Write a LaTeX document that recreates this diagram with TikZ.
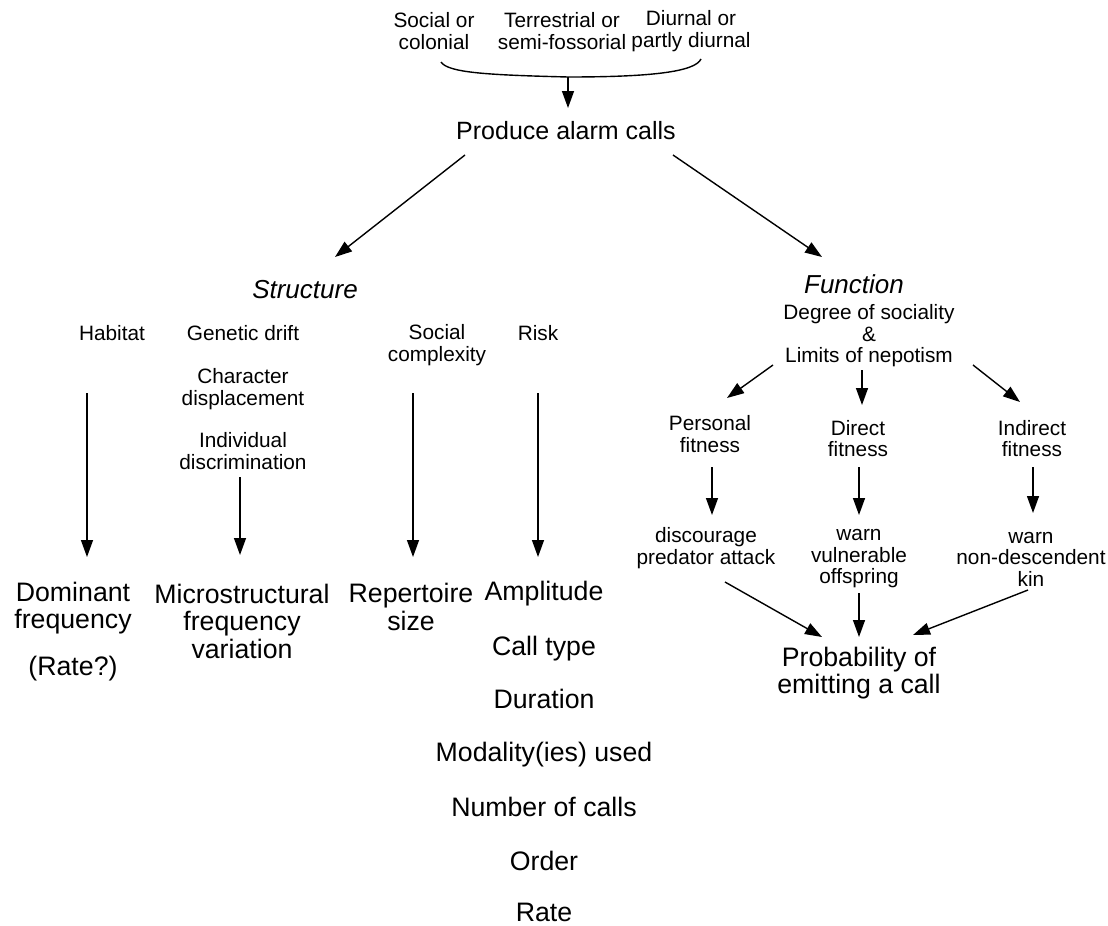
\documentclass[tikz,border=0pt]{standalone}
\usepackage{fontspec}
\setmainfont{Liberation Sans}
\usetikzlibrary{arrows.meta,calc}
\begin{document}
\begin{tikzpicture}[x=1pt,y=-1pt,
  sm/.style={font=\fontsize{20.8}{21.5}\selectfont, align=center, inner sep=0pt},
  lg/.style={font=\fontsize{26.7}{27.5}\selectfont, align=center, inner sep=0pt},
  lgone/.style={lg, text height=19.5pt, text depth=5.7pt},
  it/.style={font=\fontsize{26}{27.5}\selectfont\itshape, inner sep=0pt, text height=19.5pt, text depth=5.7pt},
  smone/.style={sm, text height=15pt, text depth=4.4pt},
  arr/.style={-{Triangle[length=17pt,width=12pt]}, line width=1.4pt},
  ln/.style={line width=1.4pt}]
\useasboundingbox (0,0) rectangle (1108,926);
% top conditions
\node[sm] (t1) at (434,31) {Social or\\colonial};
\node[sm] (t2) at (562,31) {Terrestrial or\\semi-fossorial};
\node[sm] (t3) at (691,31) {Diurnal or\\partly diurnal};
\coordinate (bmid) at (568,77);
\draw[ln] (441,62) .. controls (448,73) and (490,75) .. (bmid) .. controls (650,77) and (695,72) .. (701,59);
\node[lgone, font=\fontsize{25}{27.5}\selectfont] (prod) at (566,133) {Produce alarm calls};
\draw[arr] (bmid) -- ($(prod)+(2,-25)$);
% main branches
\node[it] (struct) at (305,292) {Structure};
\node[it] (func) at (854,287) {Function};
\draw[arr] ($(prod)+(-101,22)$) -- ($(struct)+(30,-35)$);
\draw[arr] ($(prod)+(107,22)$) -- ($(func)+(-32,-30)$);
% structure factors
\node[smone] (hab) at (112,335) {Habitat};
\node[smone] (gen) at (243,335) {Genetic drift};
\node[sm] (char) at (243,389) {Character\\displacement};
\node[sm] (indiv) at (243,451) {Individual\\discrimination};
\node[sm] (soc) at (437,345) {Social\\complexity};
\node[smone] (risk) at (538,335) {Risk};
% structure outcomes
\node[lg] (dom) at (73,608) {Dominant\\frequency};
\node[lgone] (rq) at (73,669) {(Rate?)};
\node[lg] (micro) at (242,621) {Microstructural\\frequency\\variation};
\node[lg] (rep) at (411,607) {Repertoire\\size};
\node[lgone] (amp) at (544,594) {Amplitude};
\node[lgone] (ctype) at (544,649) {Call type};
\node[lgone] (dur) at (544,702) {Duration};
\node[lgone] (mod) at (544,755) {Modality(ies) used};
\node[lgone] (num) at (544,810) {Number of calls};
\node[lgone] (ord) at (544,864) {Order};
\node[lgone] (rate) at (544,915) {Rate};
\draw[arr] ($(hab)+(-25,58)$) -- ($(dom)+(14,-51)$);
\draw[arr] ($(indiv)+(-3,26)$) -- ($(micro)+(-2,-66)$);
\draw[arr] ($(soc)+(-24,48)$) -- ($(rep)+(2,-50)$);
\draw[arr] ($(risk)+(0,58)$) -- ($(amp)+(-6,-37)$);
% function side
\node[sm] (deg) at (869,336) {Degree of sociality\\\&\\Limits of nepotism};
\node[sm] (pers) at (710,434) {Personal\\fitness};
\node[sm] (dir) at (858,438.5) {Direct\\fitness};
\node[sm] (ind) at (1032,438.5) {Indirect\\fitness};
\draw[arr] ($(deg)+(-96,29)$) -- ($(pers)+(17,-36)$);
\draw[arr] ($(deg)+(-7,34)$) -- ($(dir)+(4,-33.5)$);
\draw[arr] ($(deg)+(104,29)$) -- ($(ind)+(-12,-36.5)$);
\node[sm] (disc) at (706,548) {discourage\\predator attack};
\node[sm] (warnv) at (859,559) {warn\\vulnerable\\offspring};
\node[sm] (warnk) at (1031,559) {warn\\non-descendent\\kin};
\draw[arr] ($(pers)+(2,33)$) -- ($(disc)+(6,-33)$);
\draw[arr] ($(dir)+(1,28.5)$) -- ($(warnv)+(0,-44)$);
\draw[arr] ($(ind)+(1,28.5)$) -- ($(warnk)+(2,-46)$);
\node[lg] (prob) at (859,673) {Probability of\\emitting a call};
\draw[arr] ($(disc)+(19,34)$) -- ($(prob)+(-37,-36)$);
\draw[arr] ($(warnv)+(0,34)$) -- ($(prob)+(0,-36)$);
\draw[arr] ($(warnk)+(-3,31)$) -- ($(prob)+(54,-38)$);
\end{tikzpicture}
\end{document}
